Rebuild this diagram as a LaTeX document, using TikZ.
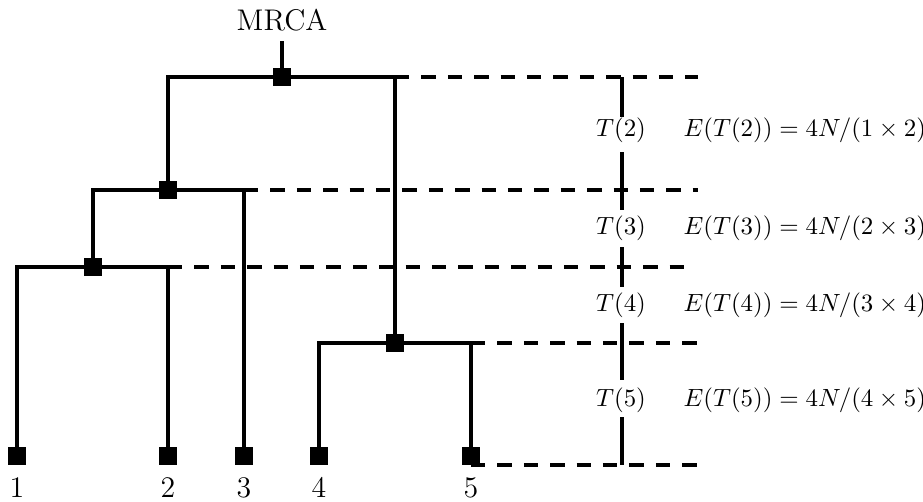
\documentclass[tikz,border=0pt]{standalone}
\begin{document}
\begin{tikzpicture}[x=0.4016pt,y=-0.4016pt,
  branch/.style={line width=1.4pt},
  refline/.style={line width=1.4pt, dash pattern=on 5.8pt off 4.8pt},
  scalebar/.style={line width=1.4pt},
  innernode/.style={fill=black, minimum size=7pt, inner sep=0pt},
  leafnode/.style={fill=black, minimum size=7pt, inner sep=0pt},
  lbl/.style={font=\large, inner sep=0pt, anchor=base},
  tlab/.style={inner sep=0pt},
  elab/.style={inner sep=0pt, anchor=west}]
\useasboundingbox (0,0) rectangle (923,501);
% tree nodes
\node[innernode] (top) at (282,77) {};
\node[innernode] (n2) at (168,190) {};
\node[innernode] (n3) at (93,267) {};
\node[innernode] (n4) at (395,343) {};
\node[leafnode] (l1) at (17,456) {};
\node[leafnode] (l2) at (168,456) {};
\node[leafnode] (l3) at (244,456) {};
\node[leafnode] (l4) at (319,456) {};
\node[leafnode] (l5) at (471,456) {};
% labels
\node[lbl] (mrca) at (282,30) {MRCA};
\node[lbl] (lab1) at (17,497) {1};
\node[lbl] (lab2) at (168,497) {2};
\node[lbl] (lab3) at (244,497) {3};
\node[lbl] (lab4) at (319,497) {4};
\node[lbl] (lab5) at (471,497) {5};
% branches
\draw[branch, shorten <=4pt] (mrca.south) -- (top.center);
\draw[branch] (n2.center) |- (top.center) -| (n4.center);
\draw[branch] (n3.center) |- (n2.center) -| (l3.center);
\draw[branch] (l1.center) |- (n3.center) -| (l2.center);
\draw[branch] (l4.center) |- (n4.center) -| (l5.center);
% reference lines
\coordinate (e1) at (698,77);
\coordinate (e2) at (698,190);
\coordinate (e3) at (689,267);
\coordinate (e4) at (698,343);
\draw[refline] (top -| n4) -- (e1);
\draw[refline] (n2 -| l3) -- (e2);
\draw[refline] (n3 -| l2) -- (e3);
\draw[refline] (n4 -| l5) -- (e4);
\draw[refline] (l5.south) -- (l5.south -| e1);
% time labels
\node[tlab] (t2) at (621,130) {$T(2)$};
\node[tlab] (t3) at (621,228) {$T(3)$};
\node[tlab] (t4) at (621,305) {$T(4)$};
\node[tlab] (t5) at (621,400) {$T(5)$};
\node[elab] (x2) at (683,130) {$E(T(2)) = 4N/(1\times 2)$};
\node[elab] (x3) at (683,228) {$E(T(3)) = 4N/(2\times 3)$};
\node[elab] (x4) at (683,305) {$E(T(4)) = 4N/(3\times 4)$};
\node[elab] (x5) at (683,400) {$E(T(5)) = 4N/(4\times 5)$};
% scale bar
\coordinate (s0) at (622,77);
\coordinate (s1) at (622,117);
\coordinate (s2) at (622,152);
\coordinate (s3) at (622,210);
\coordinate (s4) at (622,247);
\coordinate (s5) at (622,287);
\coordinate (s6) at (622,323);
\coordinate (s7) at (622,380);
\coordinate (s8) at (622,417);
\coordinate (s9) at (622,464.7);
\draw[scalebar] (s0) -- (s1);
\draw[scalebar] (s2) -- (s3);
\draw[scalebar] (s4) -- (s5);
\draw[scalebar] (s6) -- (s7);
\draw[scalebar] (s8) -- (s9);
\end{tikzpicture}
\end{document}
